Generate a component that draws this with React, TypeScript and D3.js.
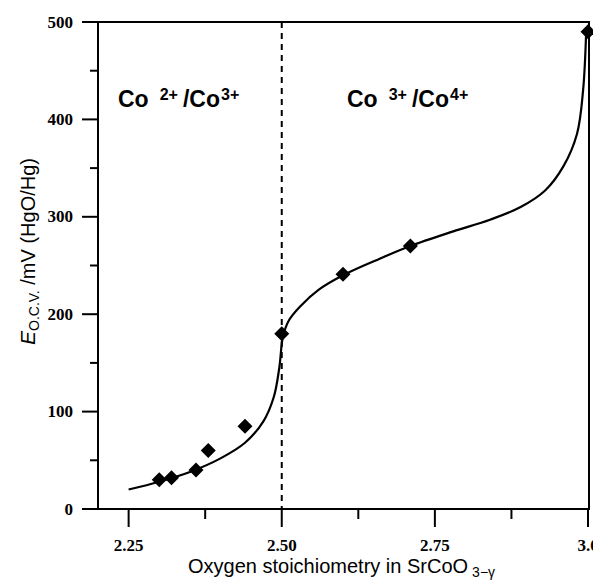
import React from "react";
import { scaleLinear, line, curveCatmullRom, range } from "d3";

// measured points (diamonds)
const pointX = [2.30, 2.32, 2.36, 2.38, 2.44, 2.50, 2.60, 2.71, 3.00];
const pointY = [30, 32, 40, 60, 85, 180, 241, 270, 490];

// fitted curve
const curveX = [2.25, 2.30, 2.35, 2.40, 2.44, 2.47, 2.487, 2.496, 2.502, 2.512, 2.53, 2.56, 2.60, 2.66, 2.71, 2.78, 2.84, 2.89, 2.93, 2.96, 2.982, 2.992, 2.997];
const curveY = [20, 28, 38, 52, 68, 90, 115, 145, 177, 194, 208, 225, 240, 257, 270, 285, 297, 310, 327, 352, 385, 430, 490];

const xMajor = [2.25, 2.5, 2.75, 3.0];
const xMajorLabels = ["2.25", "2.50", "2.75", "3.0"];
const xMinor = [2.375, 2.625, 2.875];
const yMajor = [0, 100, 200, 300, 400, 500];
const yMinor = [50, 150, 250, 350, 450];

export default function App() {
  const left = 98, right = 589, top = 22, bottom = 509;
  const x = scaleLinear().domain([2.2, 3.0]).range([left, 588]);
  const y = scaleLinear().domain([0, 500]).range([bottom, top]);

  const curveData = curveX.map((v, i) => [v, curveY[i]] as [number, number]);
  const path = line<[number, number]>()
    .x(d => x(d[0]))
    .y(d => y(d[1]))
    .curve(curveCatmullRom.alpha(0.5))(curveData);

  const d = 7.5;
  const tickFont = { fontFamily: "Liberation Serif", fontWeight: "bold", fontSize: 17 } as const;
  const labelFont = { fontFamily: "Liberation Sans", fontWeight: "bold", fontSize: 23 } as const;

  return (
    <svg width={593} height={581} style={{ position: "absolute", left: 0, top: 0, background: "#fff" }}>
      {/* frame */}
      <rect x={left} y={top} width={right - left} height={bottom - top} fill="none" stroke="#000" strokeWidth={2} />

      {/* dashed separator */}
      <line x1={x(2.5)} x2={x(2.5)} y1={top} y2={bottom} stroke="#000" strokeWidth={2} strokeDasharray="6,5" />

      {/* x ticks */}
      {xMajor.map((t, i) => (
        <g key={"xm" + t}>
          <line x1={x(t)} x2={x(t)} y1={bottom} y2={bottom + 18} stroke="#000" strokeWidth={2} />
          <text x={x(t)} y={551} textAnchor="middle" {...tickFont}>{xMajorLabels[i]}</text>
        </g>
      ))}
      {xMinor.map(t => (
        <line key={"xn" + t} x1={x(t)} x2={x(t)} y1={bottom} y2={bottom + 10} stroke="#000" strokeWidth={2} />
      ))}

      {/* y ticks */}
      {yMajor.map(t => (
        <g key={"ym" + t}>
          <line x1={left - 16} x2={left} y1={y(t)} y2={y(t)} stroke="#000" strokeWidth={2} />
          <text x={73} y={y(t) + 5.5} textAnchor="end" {...tickFont}>{t}</text>
        </g>
      ))}
      {yMinor.map(t => (
        <line key={"yn" + t} x1={left - 8} x2={left} y1={y(t)} y2={y(t)} stroke="#000" strokeWidth={2} />
      ))}

      {/* curve */}
      <path d={path || ""} fill="none" stroke="#000" strokeWidth={2.2} />

      {/* diamonds */}
      {range(pointX.length).map(i => {
        const cx = x(pointX[i]), cy = y(pointY[i]);
        return (
          <path key={"p" + i} d={`M${cx},${cy - d}L${cx + d},${cy}L${cx},${cy + d}L${cx - d},${cy}Z`} fill="#000" />
        );
      })}

      {/* region labels */}
      <text x={118} y={107} {...labelFont}>
        Co<tspan fontSize={16} dx={11} dy={-7}>2+</tspan><tspan dx={5} dy={7}>/Co</tspan><tspan fontSize={16} dx={1} dy={-7}>3+</tspan>
      </text>
      <text x={347} y={107} {...labelFont}>
        Co<tspan fontSize={16} dx={11} dy={-7}>3+</tspan><tspan dx={5} dy={7}>/Co</tspan><tspan fontSize={16} dx={1} dy={-7}>4+</tspan>
      </text>

      {/* axis titles */}
      <text x={188} y={573} fontFamily="Liberation Sans" fontSize={20}>
        Oxygen stoichiometry in SrCoO<tspan fontSize={14} dx={4} dy={4}>3−γ</tspan>
      </text>
      <text transform="translate(35,345) rotate(-90)" fontFamily="Liberation Sans" fontSize={20}>
        <tspan fontStyle="italic" fontSize={21}>E</tspan><tspan fontSize={14} dy={4}>O.C.V.</tspan><tspan dy={-4}> /mV (HgO/Hg)</tspan>
      </text>
    </svg>
  );
}
